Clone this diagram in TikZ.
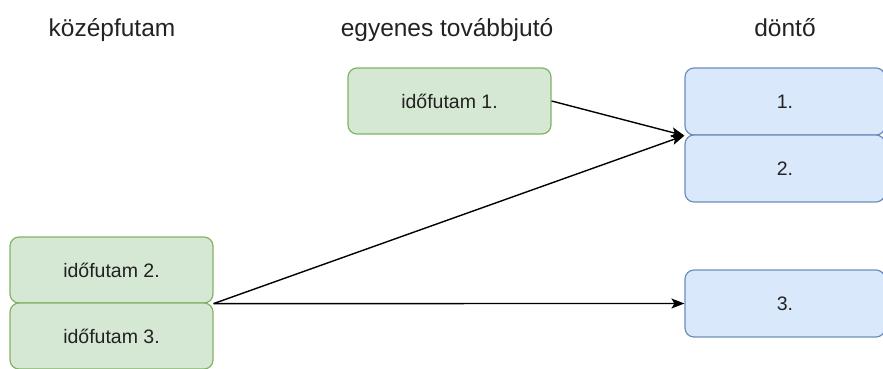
\documentclass[tikz,border=0pt]{standalone}
\usepackage{fontspec}
\setmainfont{Liberation Sans}
\usetikzlibrary{arrows.meta}
\definecolor{gfill}{HTML}{D5E8D4}
\definecolor{gline}{HTML}{82B366}
\definecolor{bfill}{HTML}{DAE8FC}
\definecolor{bline}{HTML}{6C8EBF}
\definecolor{txt}{HTML}{222222}
\tikzset{
  gbox/.style={draw=gline, fill=gfill, line width=1.2pt, rounded corners=9pt,
    minimum width=203pt, minimum height=66pt, inner sep=0pt,
    font=\fontsize{19.5}{22}\selectfont, text=txt},
  bbox/.style={draw=bline, fill=bfill, line width=1.2pt, rounded corners=9pt,
    minimum width=200pt, minimum height=67pt, inner sep=0pt,
    font=\fontsize{19.5}{22}\selectfont, text=txt},
  title/.style={font=\fontsize{24.5}{28}\selectfont, text=txt, inner sep=0pt, anchor=base},
  conn/.style={line width=1.4pt, -{Stealth[length=13pt,width=10pt,inset=3pt]}}
}
\begin{document}
\begin{tikzpicture}[x=1pt,y=-1pt]
\useasboundingbox (0,0) rectangle (883,369);
\node[title] (t1) at (112,37) {középfutam};
\node[title] (t2) at (447,37) {egyenes továbbjutó};
\node[title] (t3) at (785,37) {döntő};
\node[gbox] (i1) at (449.5,101) {időfutam 1.};
\node[gbox] (i2) at (111.5,270) {időfutam 2.};
\node[gbox] (i3) at (111.5,336) {időfutam 3.};
\node[bbox] (d1) at (785,101.5) {1.};
\node[bbox] (d2) at (785,168.5) {2.};
\node[bbox] (d3) at (785,303.5) {3.};
\draw[conn] (i1.east) -- (d1.south west);
\draw[conn] (i2.south east) -- (d1.south west);
\draw[conn] (i2.south east) -- (d3.west);
\end{tikzpicture}
\end{document}
